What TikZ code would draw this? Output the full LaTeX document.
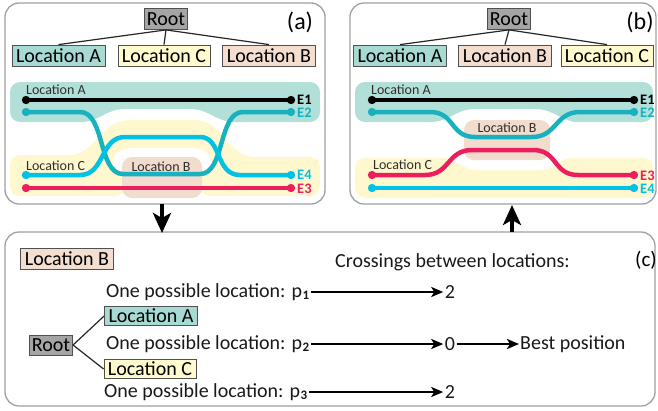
\documentclass[tikz,border=0pt]{standalone}
\usepackage{fontspec}
\setmainfont{Carlito}
\usetikzlibrary{arrows.meta}

\definecolor{tealband}{HTML}{B3DFD9}
\definecolor{boxteal}{HTML}{A7DAD3}
\definecolor{yellowband}{HTML}{FFF8CE}
\definecolor{boxyellow}{HTML}{FFFBCF}
\definecolor{beigeband}{HTML}{F1DCCD}
\definecolor{boxbeige}{HTML}{F3DED0}
\definecolor{rootgray}{HTML}{A5A5A5}
\definecolor{boxedge}{HTML}{505050}
\definecolor{panelgray}{HTML}{A0A0A0}
\definecolor{eteal}{HTML}{17B1C0}
\definecolor{ecyan}{HTML}{00C2E4}
\definecolor{ered}{HTML}{EA1F5C}
\definecolor{labelgray}{HTML}{2E2E2E}

\newcommand{\psub}[1]{p\kern0.5pt\raisebox{-2.5pt}{\fontsize{13}{13}\selectfont\bfseries #1}}

\tikzset{
  panel/.style={draw=panelgray, line width=1.3pt, rounded corners=14pt},
  lbox/.style={draw=boxedge, line width=0.8pt, inner xsep=4pt, inner ysep=0pt,
    minimum height=21pt, font=\fontsize{20}{22}\selectfont},
  rootbox/.style={lbox, fill=rootgray, inner xsep=2.5pt},
  boxA/.style={lbox, fill=boxteal},
  boxB/.style={lbox, fill=boxbeige},
  boxC/.style={lbox, fill=boxyellow},
  tree/.style={line width=1.2pt, draw=black!85},
  storyline/.style={line width=4.5pt, {Circle[length=8pt]}-{Circle[length=8pt]}},
  elabel/.style={font=\fontsize{14.5}{15}\selectfont\bfseries, anchor=west, inner sep=0pt},
  bandlabel/.style={font=\fontsize{14}{15}\selectfont, text=labelgray, inner sep=0pt},
  rowtext/.style={font=\fontsize{20}{22}\selectfont, text=black!90, anchor=west, inner xsep=2pt, inner ysep=1pt},
  numtext/.style={font=\fontsize{20}{22}\selectfont, text=black!90, inner xsep=1.5pt, inner ysep=1pt},
  panellabel/.style={font=\fontsize{24}{26}\selectfont, inner sep=0pt},
  arr/.style={line width=2.2pt, -{Stealth[length=12pt,width=10pt,inset=3pt]}},
  bigarr/.style={line width=4pt, -{Stealth[length=20pt,width=18pt,inset=5pt]}},
}

\begin{document}
\begin{tikzpicture}[x=1pt,y=-1pt]
\useasboundingbox (0,0) rectangle (658,410);

% ---------- panel frames ----------
\draw[panel] (5,3) rectangle (325,204);
\draw[panel] (350,3) rectangle (656,204);
\draw[panel] (5,232) rectangle (655,406);

% ================= panel (a) =================
% location A region
\fill[tealband, rounded corners=10pt] (10,82) rectangle (320,109);
\fill[tealband, rounded corners=10pt] (10,92) rectangle (90,122);
\fill[tealband, rounded corners=10pt] (225,92) rectangle (320,122);
\fill[tealband] (80,109) -- (80,122) .. controls (100,122) and (105,109) .. (125,109) -- cycle;
\fill[tealband] (235,109) -- (235,122) .. controls (215,122) and (210,109) .. (190,109) -- cycle;
% location C region
\fill[yellowband, rounded corners=10pt] (10,155) rectangle (125,196);
\fill[yellowband, rounded corners=10pt] (200,157) rectangle (320,196);
\fill[yellowband] (70,155) .. controls (95,155) and (100,120) .. (130,120) -- (195,120)
  .. controls (222,120) and (228,157) .. (255,157) -- cycle;
\fill[white] (112,172) .. controls (112,152) and (120,148) .. (135,148) -- (190,148)
  .. controls (205,148) and (212,152) .. (212,172) -- cycle;
% location B region
\fill[beigeband, rounded corners=10pt] (122,157) rectangle (202,198);

\node[bandlabel, anchor=west] (aLA) at (26,90) {Location A};
\node[bandlabel, anchor=west] (aLC) at (26,166) {Location C};
\node[bandlabel] (aLB) at (161,167) {Location B};

% storylines
\draw[storyline, black] (22,100) -- (295,100);
\draw[storyline, eteal] (22,112) -- (80,112) .. controls (105,112) and (98,174) .. (123,174)
  -- (200,174) .. controls (225,174) and (218,112) .. (243,112) -- (295,112);
\draw[storyline, ecyan] (22,175) -- (80,175) .. controls (105,175) and (100,137) .. (125,137)
  -- (200,137) .. controls (222,137) and (215,175) .. (240,175) -- (295,175);
\draw[storyline, ered] (22,188) -- (295,188);
\node[elabel, text=black] (aE1) at (297,100) {E1};
\node[elabel, text=eteal] (aE2) at (297,113) {E2};
\node[elabel, text=ecyan] (aE4) at (297,175) {E4};
\node[elabel, text=ered] (aE3) at (297,189) {E3};

% hierarchy
\node[rootbox] (ra) at (166,19) {Root};
\node[boxA] (aA) at (58.5,55.5) {Location A};
\node[boxC] (aC) at (164,55.5) {Location C};
\node[boxB] (aB) at (269,55.5) {Location B};
\draw[tree] (ra.south) -- (aA.north);
\draw[tree] (ra.south) -- (aC.north);
\draw[tree] (ra.south) -- (aB.north);
\node[panellabel] (la) at (300,22) {(a)};

% ================= panel (b) =================
\fill[tealband, rounded corners=10pt] (355,82) rectangle (653,109);
\fill[tealband, rounded corners=10pt] (355,92) rectangle (440,122);
\fill[tealband, rounded corners=10pt] (565,92) rectangle (653,122);
\fill[tealband] (430,109) -- (430,122) .. controls (450,122) and (455,109) .. (475,109) -- cycle;
\fill[tealband] (580,109) -- (580,122) .. controls (560,122) and (555,109) .. (535,109) -- cycle;
\fill[yellowband, rounded corners=10pt] (355,158) rectangle (653,198);
\fill[white] (440,157) .. controls (455,157) and (460,170) .. (480,170) -- (540,170)
  .. controls (555,170) and (560,157) .. (575,157) -- cycle;
\fill[beigeband, rounded corners=10pt] (464,120) rectangle (550,160);

\node[bandlabel, anchor=west] (bLA) at (371,90) {Location A};
\node[bandlabel, anchor=west] (bLC) at (373,165) {Location C};
\node[bandlabel] (bLB) at (507,128) {Location B};

\draw[storyline, black] (368,100) -- (638,100);
\draw[storyline, eteal] (368,112) -- (430,112) .. controls (455,112) and (450,137) .. (475,137)
  -- (532,137) .. controls (557,137) and (555,112) .. (580,112) -- (638,112);
\draw[storyline, ered] (368,175) -- (425,175) .. controls (450,175) and (447,150) .. (472,150)
  -- (533,150) .. controls (558,150) and (553,175) .. (578,175) -- (638,175);
\draw[storyline, ecyan] (368,188) -- (638,188);
\node[elabel, text=black] (bE1) at (640,100) {E1};
\node[elabel, text=eteal] (bE2) at (640,113) {E2};
\node[elabel, text=ered] (bE3) at (640,176) {E3};
\node[elabel, text=ecyan] (bE4) at (640,189) {E4};

\node[rootbox] (rb) at (509,19) {Root};
\node[boxA] (bA) at (400,55.5) {Location A};
\node[boxB] (bB) at (505,55.5) {Location B};
\node[boxC] (bC) at (607,55.5) {Location C};
\draw[tree] (rb.south) -- (bA.north);
\draw[tree] (rb.south) -- (bB.north);
\draw[tree] (rb.south) -- (bC.north);
\node[panellabel] (lb) at (640,22) {(b)};

% ---------- arrows between panels ----------
\coordinate (aOut) at (162,204);
\coordinate (cIn) at (162,233);
\coordinate (cOut) at (512,232);
\coordinate (bIn) at (512,205);
\draw[bigarr] (aOut) -- (cIn);
\draw[bigarr] (cOut) -- (bIn);

% ================= panel (c) =================
\node[boxB] (cB) at (67,259) {Location B};
\node[rootbox, minimum height=20pt] (cR) at (51,345) {Root};
\node[boxA, minimum height=19pt] (cA) at (151,316) {Location A};
\node[boxC, minimum height=19pt] (cC) at (150,369) {Location C};
\draw[tree] (cR.east) -- (cA.west);
\draw[tree] (cR.east) -- (cC.west);

\node[rowtext] (cap) at (333,262) {Crossings between locations:};
\node[font=\fontsize{21}{22}\selectfont, inner sep=0pt] (lc) at (646,260) {(c)};

\node[rowtext] (t1) at (104,292) {One possible location: \psub{1}};
\node[rowtext] (t2) at (104,344) {One possible location: \psub{2}};
\node[rowtext] (t3) at (102,392) {One possible location: \psub{3}};
\node[numtext] (n1) at (450,292) {2};
\node[numtext] (n2) at (450,344) {0};
\node[numtext] (n3) at (450,392) {2};
\node[rowtext, inner xsep=1pt] (best) at (519,344) {Best position};
\draw[arr] (t1.east) -- (n1.west);
\draw[arr] (t2.east) -- (n2.west);
\draw[arr] (t3.east) -- (n3.west);
\draw[arr] (n2.east) -- (best.west);
\end{tikzpicture}
\end{document}
